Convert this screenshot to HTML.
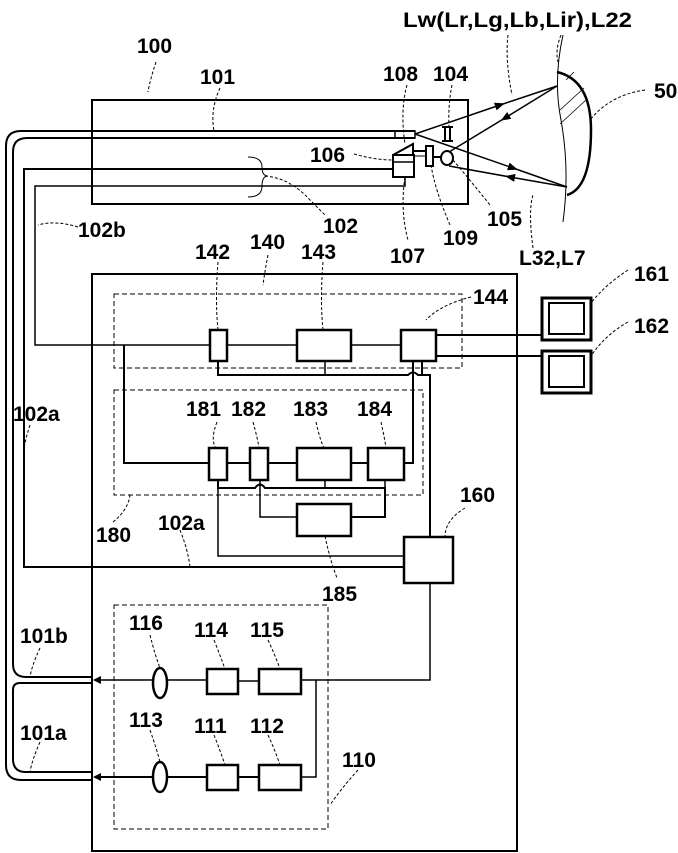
<!DOCTYPE html>
<html><head><meta charset="utf-8"><style>
html,body{margin:0;padding:0;background:#fff}
svg{display:block}
text{font-family:"Liberation Sans",sans-serif;font-weight:bold;font-size:21px;fill:#000}
</style></head><body>
<svg width="678" height="853" viewBox="0 0 678 853" xmlns="http://www.w3.org/2000/svg">
<defs>
<marker id="ar" viewBox="0 0 10 10" refX="5" refY="5" markerUnits="userSpaceOnUse" markerWidth="10" markerHeight="10" orient="auto"><path d="M0,1 L10,5 L0,9 z" fill="#000"/></marker>
</defs>
<g fill="none" stroke="#000">
<rect x="92" y="100" width="376" height="104" stroke-width="2"/>
<path d="M415,131 H21 Q6,131 6,146 V765 Q6,780 21,780 H92" stroke-width="2"/>
<path d="M415,138 H27 Q13,138 13,152 V664 Q13,677 26,677 H92" stroke-width="2"/>
<path d="M92,683 H20 Q13,683 13,690 V759 Q13,772 26,772 H92" stroke-width="2"/>
<rect x="395" y="131" width="20" height="7" stroke-width="1.5"/>
<path d="M393,169 H24 V567 H404" stroke-width="2"/>
<path d="M405,177 V186 H35 V345 H210" stroke-width="1.5"/>
<path d="M248,157 Q262,157 262,167 Q262,176 268,176 Q262,176 262,186 Q262,197 248,197" stroke-width="1"/>
<rect x="393" y="155" width="21" height="22" stroke-width="2"/>
<line x1="393" y1="162" x2="414" y2="162" stroke-width="1.5"/>
<path d="M393,155 L413,144 V155" stroke-width="2"/>
<line x1="414" y1="151" x2="426" y2="151" stroke-width="2"/>
<line x1="414" y1="156" x2="426" y2="156" stroke-width="1"/>
<rect x="426" y="146" width="7" height="20" stroke-width="2"/>
<line x1="433" y1="157" x2="441" y2="157" stroke-width="2"/>
<ellipse cx="447" cy="158" rx="6" ry="7" stroke-width="2"/>
<path d="M442,127 H453 M442,141 H453 M445,127 V141 M450,127 V141" stroke-width="2"/>
<path d="M415,134 L500,105 L557,86" stroke-width="1.5" marker-mid="url(#ar)"/>
<path d="M415,134 L513,168 L567,187" stroke-width="1.5" marker-mid="url(#ar)"/>
<path d="M557,86 L505,118 L449,152" stroke-width="1.5" marker-mid="url(#ar)"/>
<path d="M567,187 L510,177 L449,166" stroke-width="1.5" marker-mid="url(#ar)"/>
<path d="M557,72 Q591,80 591,130 Q591,188 567,195" stroke-width="2.5"/>
<path d="M563,35 Q553,80 561,120 Q570,170 563,222" stroke-width="1"/>
<path d="M566,80 L574,72 M560,110 L584,88 M560,124 L586,100" stroke-width="0.8"/>
<rect x="92" y="274" width="425" height="577" stroke-width="2"/>
<rect x="114" y="294" width="348" height="74" stroke-width="1" stroke-dasharray="5,3"/>
<rect x="114" y="390" width="309" height="105" stroke-width="1" stroke-dasharray="5,3"/>
<rect x="114" y="605" width="214" height="224" stroke-width="1" stroke-dasharray="5,3"/>
<rect x="210" y="330" width="17" height="31" stroke-width="2.5"/>
<rect x="297" y="330" width="54" height="31" stroke-width="2.5"/>
<rect x="401" y="330" width="35" height="31" stroke-width="2.5"/>
<path d="M227,345 H297 M351,345 H401" stroke-width="1.5"/>
<path d="M436,335 H541 M436,356 H541" stroke-width="2"/>
<path d="M124,345 V463 H210" stroke-width="2"/>
<path d="M218,361 V375 H408 Q413,370 418,375 H430 V537" stroke-width="2"/>
<path d="M325,361 V375" stroke-width="1.5"/>
<path d="M422,361 V375" stroke-width="2"/>
<path d="M413,361 V463 H404" stroke-width="2"/>
<rect x="542" y="298" width="49" height="42" stroke-width="3"/>
<rect x="549" y="303" width="35" height="31" stroke-width="2"/>
<rect x="542" y="351" width="49" height="42" stroke-width="3"/>
<rect x="549" y="356" width="35" height="31" stroke-width="2"/>
<rect x="209" y="448" width="18" height="32" stroke-width="2.5"/>
<rect x="250" y="448" width="18" height="32" stroke-width="2.5"/>
<rect x="297" y="448" width="54" height="32" stroke-width="2.5"/>
<rect x="368" y="448" width="36" height="32" stroke-width="2.5"/>
<path d="M227,463 H250 M268,463 H297 M351,463 H368" stroke-width="2"/>
<path d="M218,480 V488 H255 Q260,481 265,488 H385 V517 H351" stroke-width="2"/>
<path d="M325,480 V488 M385,480 V488" stroke-width="1.5"/>
<path d="M260,480 V517 H297" stroke-width="1.5"/>
<rect x="297" y="504" width="54" height="32" stroke-width="2.5"/>
<path d="M218,488 V556 H404" stroke-width="1.5"/>
<rect x="404" y="537" width="49" height="46" stroke-width="2.5"/>
<path d="M430,583 V680 H301" stroke-width="1.5"/>
<ellipse cx="160" cy="683" rx="7" ry="15" stroke-width="2.5"/>
<rect x="207" y="669" width="31" height="25" stroke-width="2.5"/>
<rect x="259" y="669" width="42" height="25" stroke-width="2.5"/>
<path d="M207,680 H167 M153,680 H98" stroke-width="1.5" />
<path d="M238,681 H259" stroke-width="1.5"/>
<ellipse cx="160" cy="777" rx="7" ry="15" stroke-width="2.5"/>
<rect x="207" y="765" width="31" height="25" stroke-width="2.5"/>
<rect x="259" y="765" width="42" height="25" stroke-width="2.5"/>
<path d="M207,777 H167 M153,777 H98" stroke-width="2"/>
<path d="M238,777 H259" stroke-width="2"/>
<path d="M301,777 H316 V680" stroke-width="1.5"/>
</g>
<path d="M93,680 L101,676 L101,684 z M93,777 L101,773 L101,781 z" fill="#000"/>
<g fill="none" stroke="#000" stroke-width="1" stroke-dasharray="3,2">
<path d="M156,62 Q150,80 148,92"/>
<path d="M220,88 Q210,110 214,131"/>
<path d="M407,85 Q400,110 405,144"/>
<path d="M452,85 Q448,105 449,126"/>
<path d="M354,154 Q375,160 393,160"/>
<path d="M265,176 Q290,178 310,200 Q320,210 325,215"/>
<path d="M78,227 Q55,220 38,225"/>
<path d="M508,35 Q505,60 512,95"/>
<path d="M561,35 Q555,50 558,62"/>
<path d="M645,90 Q610,95 590,120"/>
<path d="M453,160 Q470,180 490,205"/>
<path d="M431,165 Q435,190 450,225"/>
<path d="M405,177 Q400,210 408,240"/>
<path d="M533,248 Q528,210 533,195"/>
<path d="M268,255 Q265,270 263,285"/>
<path d="M218,262 Q215,300 218,330"/>
<path d="M323,262 Q320,300 323,330"/>
<path d="M471,297 Q440,305 426,320"/>
<path d="M628,270 Q605,285 591,303"/>
<path d="M628,322 Q605,335 591,356"/>
<path d="M217,422 Q210,440 216,448"/>
<path d="M253,422 Q258,440 259,448"/>
<path d="M316,422 Q320,440 324,448"/>
<path d="M381,422 Q385,440 386,448"/>
<path d="M465,508 Q445,520 445,537"/>
<path d="M113,522 Q128,510 130,495"/>
<path d="M180,530 Q188,550 190,567"/>
<path d="M325,536 Q330,560 337,578"/>
<path d="M150,635 Q155,655 160,668"/>
<path d="M214,640 Q220,655 225,669"/>
<path d="M268,640 Q275,655 280,669"/>
<path d="M40,648 Q32,665 30,677"/>
<path d="M150,730 Q157,750 160,762"/>
<path d="M214,735 Q220,750 225,765"/>
<path d="M268,735 Q275,750 280,765"/>
<path d="M40,742 Q32,760 30,772"/>
<path d="M358,770 Q340,790 330,805"/>
<path d="M30,425 Q25,440 24,450"/>
</g>
<text x="403" y="27" textLength="229" lengthAdjust="spacingAndGlyphs">Lw(Lr,Lg,Lb,Lir),L22</text>
<text x="654" y="98">50</text>
<text x="519" y="265">L32,L7</text>
<text x="137" y="53">100</text>
<text x="200" y="84">101</text>
<text x="383" y="81">108</text>
<text x="433" y="81">104</text>
<text x="310" y="162">106</text>
<text x="323" y="233">102</text>
<text x="78" y="237">102b</text>
<text x="487" y="226">105</text>
<text x="443" y="245">109</text>
<text x="390" y="263">107</text>
<text x="250" y="249">140</text>
<text x="195" y="259">142</text>
<text x="301" y="259">143</text>
<text x="473" y="304">144</text>
<text x="634" y="281">161</text>
<text x="634" y="333">162</text>
<text x="13" y="421">102a</text>
<text x="186" y="416">181</text>
<text x="231" y="416">182</text>
<text x="293" y="416">183</text>
<text x="357" y="416">184</text>
<text x="460" y="502">160</text>
<text x="96" y="542">180</text>
<text x="158" y="530">102a</text>
<text x="322" y="601">185</text>
<text x="129" y="630">116</text>
<text x="194" y="637">114</text>
<text x="250" y="637">115</text>
<text x="20" y="643">101b</text>
<text x="129" y="727">113</text>
<text x="194" y="733">111</text>
<text x="250" y="733">112</text>
<text x="20" y="740">101a</text>
<text x="342" y="767">110</text>
</svg>
</body></html>
